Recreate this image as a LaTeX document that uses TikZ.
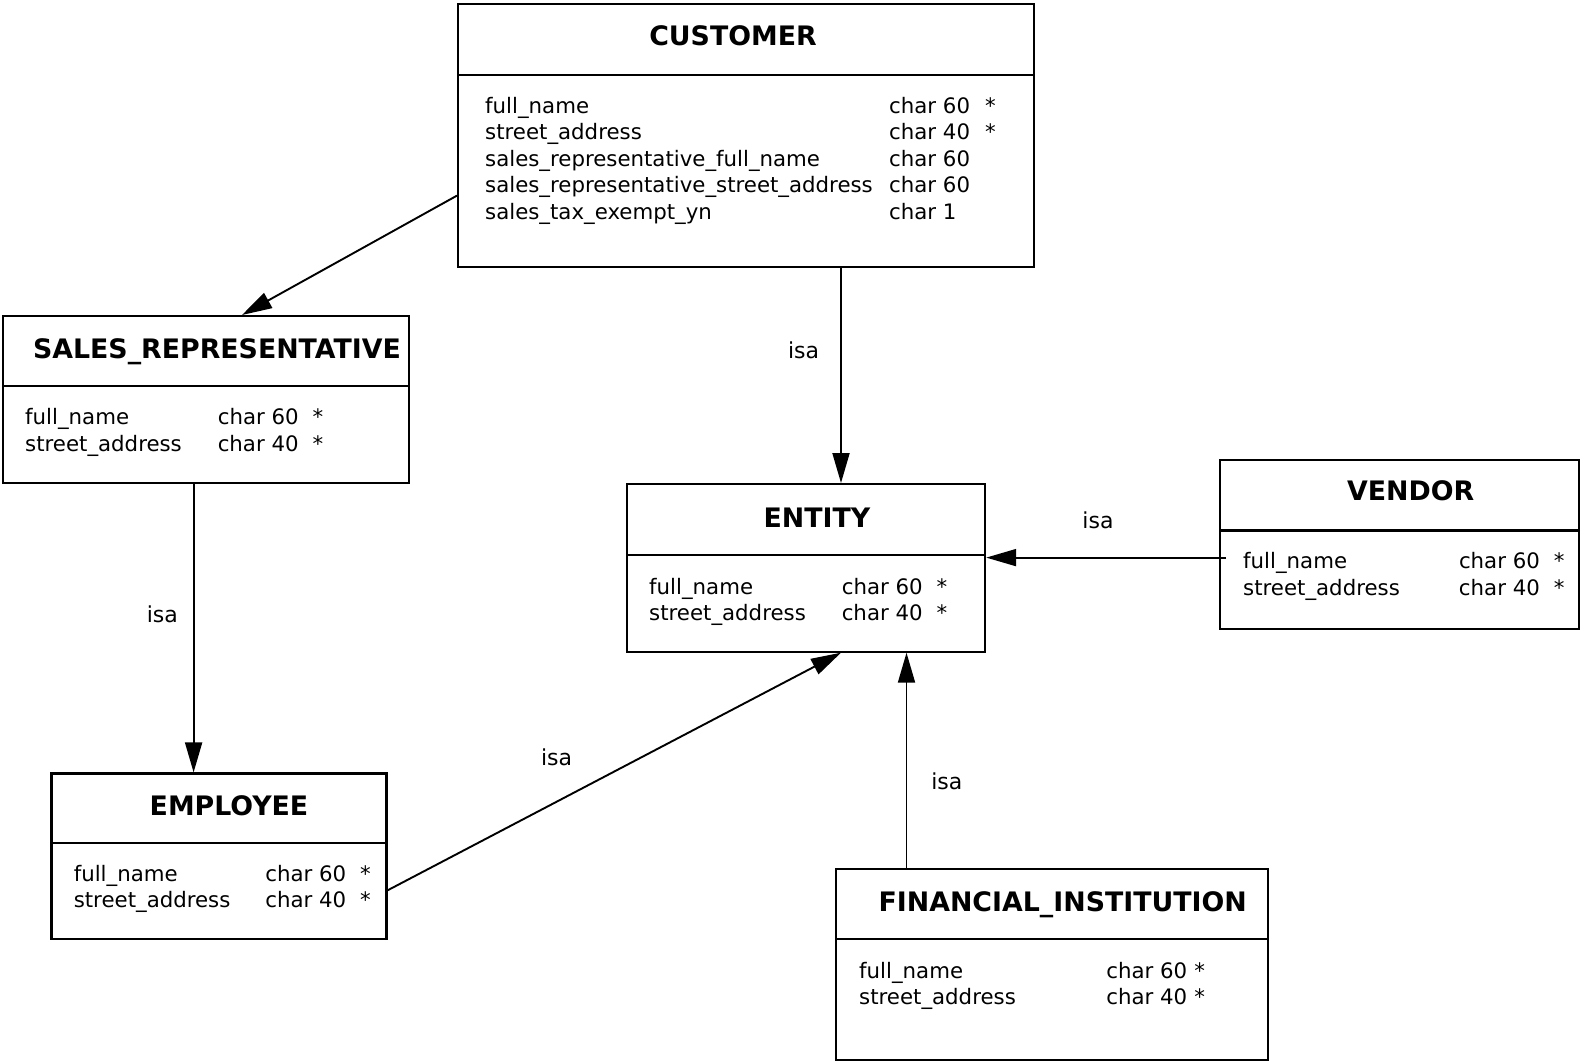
\documentclass[tikz,border=0pt]{standalone}
\usepackage{fontspec}
\setmainfont{DejaVu Sans}
\usetikzlibrary{arrows.meta}

\tikzset{
  entbox/.style={draw,line width=2.2pt,inner sep=0pt,anchor=north west},
  entline/.style={line width=2.2pt},
  enttitle/.style={anchor=base,inner sep=0pt,font=\fontsize{26.8}{30}\selectfont\bfseries},
  entattr/.style={anchor=base west,inner sep=0pt,font=\fontsize{21.3}{26.5}\selectfont},
  isa/.style={line width=1.9pt,-{Triangle[length=30pt,width=17pt]}},
  isalabel/.style={inner sep=0pt,font=\fontsize{22}{26}\selectfont}
}

\begin{document}
\begin{tikzpicture}[x=1pt,y=-1pt]
    \useasboundingbox (0,0) rectangle (1581,1061);
    % customer
    \node[entbox,minimum width=576pt,minimum height=263pt] (customer) at (457,3) {};
    \draw[entline] (customer.west |- 0,75) -- (customer.east |- 0,75);
    \node[enttitle] (customer-t) at (733,45) {CUSTOMER};
    \node[entattr] (customer-a) at (485,113) {\begin{tabular}[t]{@{}p{404pt}@{}p{96pt}@{}l@{}}
      full\_name & char 60 & *\\
      street\_address & char 40 & *\\
      sales\_representative\_full\_name & char 60 &\\
      sales\_representative\_street\_address & char 60 &\\
      sales\_tax\_exempt\_yn & char 1 &
    \end{tabular}};
    % sales representative
    \node[entbox,minimum width=406pt,minimum height=167pt] (salesrep) at (2,315) {};
    \draw[entline] (salesrep.west |- 0,386) -- (salesrep.east |- 0,386);
    \node[enttitle] (salesrep-t) at (217,358.5) {SALES\_REPRESENTATIVE};
    \node[entattr] (salesrep-a) at (25,424.5) {\begin{tabular}[t]{@{}p{192.6pt}@{}p{94.8pt}@{}l@{}}
      full\_name & char 60 & *\\
      street\_address & char 40 & *
    \end{tabular}};
    % entity
    \node[entbox,minimum width=358pt,minimum height=167.5pt] (entity) at (626,483) {};
    \draw[entline] (entity.west |- 0,554.6) -- (entity.east |- 0,554.6);
    \node[enttitle] (entity-t) at (817,527) {ENTITY};
    \node[entattr] (entity-a) at (649,594) {\begin{tabular}[t]{@{}p{192.6pt}@{}p{94.9pt}@{}l@{}}
      full\_name & char 60 & *\\
      street\_address & char 40 & *
    \end{tabular}};
    % vendor
    \node[entbox,minimum width=359pt,minimum height=168.5pt] (vendor) at (1219,459) {};
    \draw[entline] (vendor.west |- 0,530.4) -- (vendor.east |- 0,530.4);
    \node[enttitle] (vendor-t) at (1410.6,500.7) {VENDOR};
    \node[entattr] (vendor-a) at (1243,568.6) {\begin{tabular}[t]{@{}p{215.8pt}@{}p{94.8pt}@{}l@{}}
      full\_name & char 60 & *\\
      street\_address & char 40 & *
    \end{tabular}};
    % employee
    \node[entbox,minimum width=335pt,minimum height=165.5pt] (employee) at (50.4,772.4) {};
    \draw[entline] (employee.west |- 0,843) -- (employee.east |- 0,843);
    \node[enttitle] (employee-t) at (229,815.3) {EMPLOYEE};
    \node[entattr] (employee-a) at (73.6,881.2) {\begin{tabular}[t]{@{}p{191.6pt}@{}p{94.8pt}@{}l@{}}
      full\_name & char 60 & *\\
      street\_address & char 40 & *
    \end{tabular}};
    % financial institution
    \node[entbox,minimum width=431.5pt,minimum height=190.6pt] (financial) at (835,868.1) {};
    \draw[entline] (financial.west |- 0,938.7) -- (financial.east |- 0,938.7);
    \node[enttitle] (financial-t) at (1062.7,911.1) {FINANCIAL\_INSTITUTION};
    \node[entattr] (financial-a) at (859,978) {\begin{tabular}[t]{@{}p{247.1pt}@{}p{88pt}@{}l@{}}
      full\_name & char 60 & *\\
      street\_address & char 40 & *
    \end{tabular}};
    % isa links
    \draw[isa] (customer.west |- 0,195.6) -- (salesrep.north -| 242,0);
    \draw[isa] (customer.south -| 841,0) -- (entity.north -| 841,0);
    \draw[isa] (salesrep.south -| 193.6,0) -- (employee.north -| 193.6,0);
    \draw[isa] (employee.east |- 0,890.3) -- (entity.south -| 841,0);
    \draw[isa] (financial.north -| 906.5,0) -- (entity.south -| 906.5,0);
    \draw[isa,shorten <=-7pt] (vendor.west |- 0,557.6) -- (entity.east |- 0,557.6);
    \node[isalabel] (isa-c) at (803.6,349.9) {isa};
    \node[isalabel] (isa-s) at (162.3,614) {isa};
    \node[isalabel] (isa-e) at (556.6,757.2) {isa};
    \node[isalabel] (isa-f) at (946.8,781.4) {isa};
    \node[isalabel] (isa-v) at (1098,520.3) {isa};
  \end{tikzpicture}
\end{document}
